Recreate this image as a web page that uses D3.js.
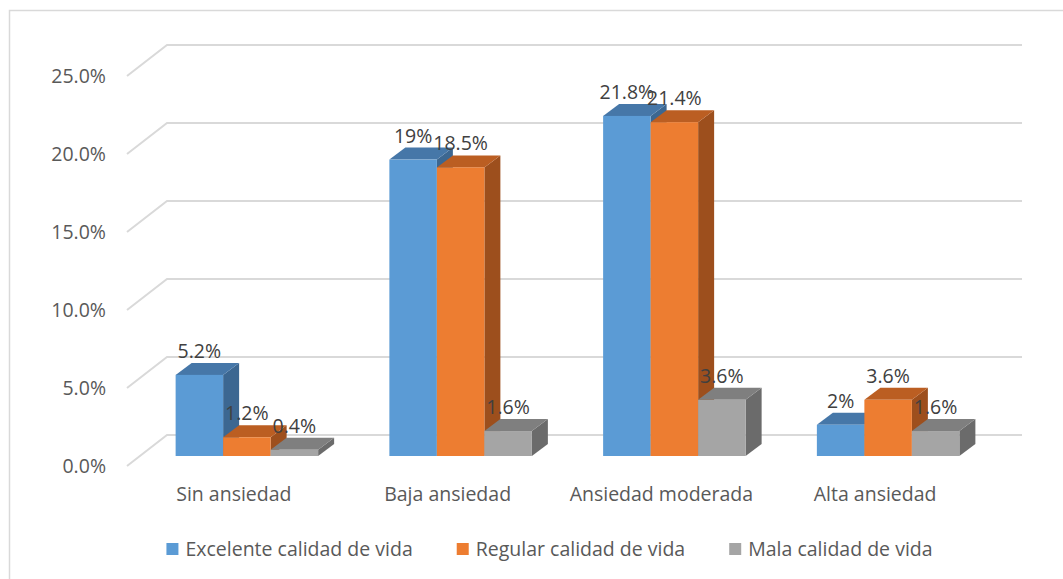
<!DOCTYPE html>
<html>
<head>
<meta charset="utf-8">
<script src="https://cdn.jsdelivr.net/npm/d3@7"></script>
<style>
  html, body { margin: 0; padding: 0; background: #fff; }
  svg { display: block; font-family: "Open Sans", sans-serif; }
</style>
</head>
<body>
<svg id="chart" width="1063" height="579"></svg>
<script>
const categories = ["Sin ansiedad", "Baja ansiedad", "Ansiedad moderada", "Alta ansiedad"];
const seriesNames = ["Excelente calidad de vida", "Regular calidad de vida", "Mala calidad de vida"];
const excelente = [5.2, 19, 21.8, 2];
const regular = [1.2, 18.5, 21.4, 3.6];
const mala = [0.4, 1.6, 3.6, 1.6];
const valueLabels = [
  ["5.2%", "19%", "21.8%", "2%"],
  ["1.2%", "18.5%", "21.4%", "3.6%"],
  ["0.4%", "1.6%", "3.6%", "1.6%"]
];
const yTicks = [0, 5, 10, 15, 20, 25];
const yTickLabels = ["0.0%", "5.0%", "10.0%", "15.0%", "20.0%", "25.0%"];

const seriesValues = [excelente, regular, mala];
const frontColors = ["#5b9bd5", "#ed7d31", "#a5a5a5"];
const topColors = ["#4677a8", "#bb5e22", "#7f7f7f"];
const sideColors = ["#3c6791", "#9d4f1d", "#6b6b6b"];

const svg = d3.select("#chart");
const textColor = "#595959";
const gridColor = "#d9d9d9";
const fs = 19.5;

// chart border
svg.append("rect").attr("x", 9.5).attr("y", 10.5).attr("width", 1060).attr("height", 600)
  .attr("fill", "none").attr("stroke", "#d9d9d9").attr("stroke-width", 1.5);

// scales (bar front plane)
const x0 = d3.scaleBand().domain(categories).range([140, 995]).paddingInner(1/3).paddingOuter(1/6);
const x1 = d3.scaleBand().domain(d3.range(3)).range([0, x0.bandwidth()]).padding(0);
const y = d3.scaleLinear().domain([0, 25]).range([456, 66]);

// depth offsets
const wallDX = 27, wallDY = -21;   // bar plane -> back wall
const frontDX = -13, frontDY = 10; // bar plane -> front edge of floor
const barDX = 16, barDY = -12;     // bar depth

// gridlines (3D: front diagonal + back wall)
const grid = svg.append("g");
yTicks.forEach(v => {
  const yb = y(v);
  const pts = [
    [140 + frontDX, yb + frontDY],
    [140 + wallDX, yb + wallDY],
    [995 + wallDX, yb + wallDY]
  ];
  grid.append("path").attr("d", d3.line()(pts))
    .attr("fill", "none").attr("stroke", gridColor).attr("stroke-width", 2);
});

// y tick labels
svg.append("g").selectAll("text").data(yTicks).join("text")
  .attr("x", 106).attr("y", d => y(d) + frontDY)
  .attr("dy", "0.35em").attr("text-anchor", "end")
  .attr("fill", textColor).attr("font-size", fs)
  .text((d, i) => yTickLabels[i]);

// bars
const bars = svg.append("g");
categories.forEach((cat, ci) => {
  seriesValues.forEach((vals, si) => {
    const v = vals[ci];
    const xa = x0(cat) + x1(si);
    const xb = xa + x1.bandwidth();
    const yt = y(v), yb = y(0);
    const g = bars.append("g");
    g.append("path").attr("d", d3.line()([[xb, yt], [xb + barDX, yt + barDY], [xb + barDX, yb + barDY], [xb, yb]]) + "Z")
      .attr("fill", sideColors[si]);
    g.append("path").attr("d", d3.line()([[xa, yt], [xb, yt], [xb + barDX, yt + barDY], [xa + barDX, yt + barDY]]) + "Z")
      .attr("fill", topColors[si]);
    g.append("rect").attr("x", xa).attr("y", yt).attr("width", xb - xa).attr("height", yb - yt)
      .attr("fill", frontColors[si]);
  });
});

// value labels
const labels = svg.append("g");
categories.forEach((cat, ci) => {
  seriesValues.forEach((vals, si) => {
    const xc = x0(cat) + x1(si) + x1.bandwidth() / 2;
    labels.append("text").attr("x", xc).attr("y", y(vals[ci]) - 17)
      .attr("text-anchor", "middle").attr("fill", "#404040").attr("font-size", fs)
      .text(valueLabels[si][ci]);
  });
});

// category labels
svg.append("g").selectAll("text").data(categories).join("text")
  .attr("x", d => x0(d) + x0.bandwidth() / 2 + frontDX)
  .attr("y", 494).attr("dy", "0.35em").attr("text-anchor", "middle")
  .attr("fill", textColor).attr("font-size", fs)
  .text(d => d);

// legend
const legend = svg.append("g");
const items = legend.selectAll("g").data(seriesNames).join("g");
items.append("rect").attr("width", 12).attr("height", 12).attr("y", -6)
  .attr("fill", (d, i) => frontColors[i]);
items.append("text").attr("x", 19).attr("dy", "0.35em")
  .attr("fill", textColor).attr("font-size", fs).text(d => d);
let widths = [];
items.each(function () { widths.push(this.getBBox().width); });
const gap = 44;
const total = d3.sum(widths) + gap * (widths.length - 1);
let cx = 549.5 - total / 2;
items.each(function (d, i) {
  d3.select(this).attr("transform", `translate(${cx},549)`);
  cx += widths[i] + gap;
});
</script>
</body>
</html>
